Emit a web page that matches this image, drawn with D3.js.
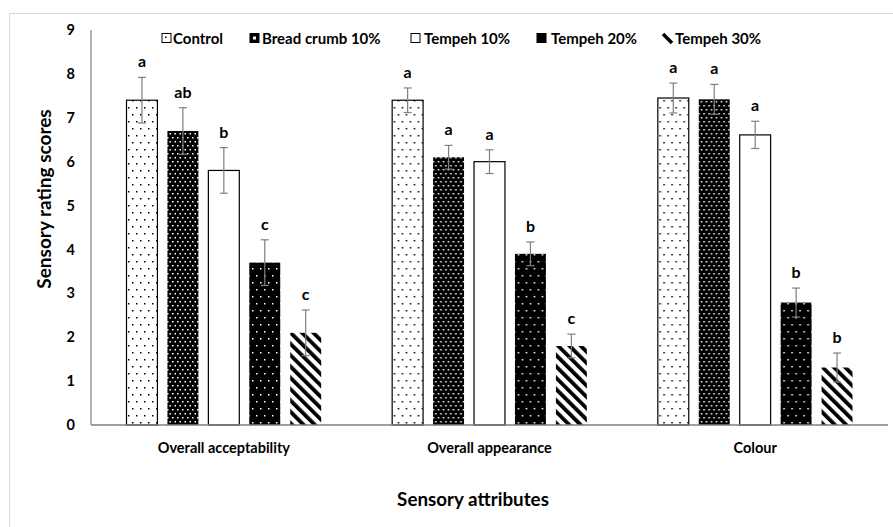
<!DOCTYPE html>
<html><head><meta charset="utf-8">
<script src="https://cdnjs.cloudflare.com/ajax/libs/d3/7.8.5/d3.min.js"></script>
<style>body{margin:0;background:#fff;} text{font-family:Lato,"Liberation Sans",sans-serif;font-weight:bold;fill:#000;}</style>
</head><body>
<svg id="c" width="893" height="527"></svg>
<script>
const categories = ["Overall acceptability", "Overall appearance", "Colour"];
const series = ["Control", "Bread crumb 10%", "Tempeh 10%", "Tempeh 20%", "Tempeh 30%"];
const values = [
  [7.40, 6.70, 5.80, 3.70, 2.10],
  [7.40, 6.10, 6.00, 3.90, 1.80],
  [7.45, 7.42, 6.61, 2.79, 1.31]
];
const errors = [
  [0.52, 0.53, 0.52, 0.52, 0.52],
  [0.28, 0.27, 0.27, 0.27, 0.27],
  [0.34, 0.34, 0.31, 0.33, 0.33]
];
const letters = [
  ["a", "ab", "b", "c", "c"],
  ["a", "a", "a", "b", "c"],
  ["a", "a", "a", "b", "b"]
];
const yTicks = [0,1,2,3,4,5,6,7,8,9];

const svg = d3.select("#c");
// frame
svg.append("line").attr("x1",9.5).attr("x2",893).attr("y1",13.5).attr("y2",13.5).attr("stroke","#d9d9d9");
svg.append("line").attr("x1",9.5).attr("x2",9.5).attr("y1",13.5).attr("y2",527).attr("stroke","#d9d9d9");

const defs = svg.append("defs");
let p = defs.append("pattern").attr("id","pCtrl").attr("patternUnits","userSpaceOnUse").attr("width",8).attr("height",14);
p.append("rect").attr("width",8).attr("height",14).attr("fill","#fff");
p.append("rect").attr("x",1).attr("y",2).attr("width",1.5).attr("height",1.5).attr("fill","#000");
p.append("rect").attr("x",5).attr("y",9).attr("width",1.5).attr("height",1.5).attr("fill","#000");
p = defs.append("pattern").attr("id","pBread").attr("patternUnits","userSpaceOnUse").attr("width",5).attr("height",8);
p.append("rect").attr("width",5).attr("height",8).attr("fill","#000");
p.append("rect").attr("x",1).attr("y",1).attr("width",1.5).attr("height",1.5).attr("fill","#fff");
p.append("rect").attr("x",3.5).attr("y",5).attr("width",1.5).attr("height",1.5).attr("fill","#fff");
p = defs.append("pattern").attr("id","pT20").attr("patternUnits","userSpaceOnUse").attr("width",8).attr("height",14);
p.append("rect").attr("width",8).attr("height",14).attr("fill","#000");
p.append("rect").attr("x",1).attr("y",2).attr("width",1.5).attr("height",1.5).attr("fill","#fff");
p.append("rect").attr("x",5).attr("y",9).attr("width",1.5).attr("height",1.5).attr("fill","#fff");
p = defs.append("pattern").attr("id","pT30").attr("patternUnits","userSpaceOnUse").attr("width",8).attr("height",8).attr("patternTransform","rotate(-45)");
p.append("rect").attr("width",8).attr("height",8).attr("fill","#fff");
p.append("rect").attr("x",0).attr("y",0).attr("width",3.8).attr("height",8).attr("fill","#000");

const fills = ["url(#pCtrl)","url(#pBread)","#fff","url(#pT20)","url(#pT30)"];
const strokes = ["#000","none","#000","none","none"];

const x0 = d3.scaleBand().domain(categories).range([91, 888]);
const x1 = d3.scaleBand().domain(series).range([0, x0.bandwidth()]).paddingInner(0.22).paddingOuter(0.855);
const y = d3.scaleLinear().domain([0, 9]).range([425, 30]);

svg.append("g").selectAll("text").data(yTicks).join("text")
  .attr("x", 75).attr("y", d => y(d)).attr("dy","0.35em").attr("text-anchor","end")
  .attr("font-size", 14.5).text(d => d);

categories.forEach((cat, ci) => {
  const g = svg.append("g").attr("transform", `translate(${x0(cat)},0)`);
  series.forEach((s, si) => {
    const v = values[ci][si], e = errors[ci][si];
    const bx = x1(s), bw = x1.bandwidth();
    g.append("rect").attr("x", bx + 0.5).attr("y", y(v)).attr("width", bw - 1).attr("height", y(0) - y(v))
      .attr("fill", fills[si]).attr("stroke", strokes[si]).attr("stroke-width", 1.2);
    const cx = bx + bw / 2;
    g.append("line").attr("x1", cx).attr("x2", cx).attr("y1", y(v + e)).attr("y2", y(v - e)).attr("stroke", "#7f7f7f").attr("stroke-width", 1.2);
    [v + e, v - e].forEach(t => g.append("line").attr("x1", cx - 4).attr("x2", cx + 4).attr("y1", y(t)).attr("y2", y(t)).attr("stroke", "#7f7f7f").attr("stroke-width", 1.2));
    g.append("text").attr("x", cx).attr("y", y(v + e) - 10).attr("text-anchor", "middle").attr("font-size", 16).text(letters[ci][si]);
  });
  svg.append("text").attr("x", x0(cat) + x0.bandwidth() / 2).attr("y", 453).attr("text-anchor", "middle").attr("font-size", 14.5).text(cat);
});

svg.append("line").attr("x1", 91).attr("x2", 91).attr("y1", y(9)).attr("y2", y(0)).attr("stroke", "#7f7f7f").attr("stroke-width", 1.2);
svg.append("line").attr("x1", 91).attr("x2", 888).attr("y1", y(0)).attr("y2", y(0)).attr("stroke", "#7f7f7f").attr("stroke-width", 1.5);

svg.append("text").attr("transform", "translate(51,199) rotate(-90)").attr("text-anchor", "middle").attr("font-size", 19).text("Sensory rating scores");
svg.append("text").attr("x", 473).attr("y", 506).attr("text-anchor", "middle").attr("font-size", 18.8).text("Sensory attributes");

const legX = [162, 250, 411, 537, 663];
const legT = [173, 262, 424, 551, 675];
const lg = svg.append("g");
series.forEach((s, si) => {
  const lx = legX[si];
  if (si === 4) {
    lg.append("line").attr("x1", lx).attr("y1", 34).attr("x2", lx + 9).attr("y2", 43).attr("stroke", "#000").attr("stroke-width", 3.5);
  } else {
    lg.append("rect").attr("x", lx).attr("y", 33.5).attr("width", 9).attr("height", 9)
      .attr("fill", (si === 1 || si === 3) ? "#000" : "#fff").attr("stroke", "#000").attr("stroke-width", 1);
    if (si === 0) lg.append("rect").attr("x", lx + 3).attr("y", 36.5).attr("width", 1.5).attr("height", 1.5).attr("fill", "#000");
    if (si === 1) lg.append("rect").attr("x", lx + 3).attr("y", 36.5).attr("width", 3).attr("height", 3).attr("fill", "#fff");
  }
  lg.append("text").attr("x", legT[si]).attr("y", 43.5).attr("font-size", 15).text(s);
});
</script>
</body></html>
